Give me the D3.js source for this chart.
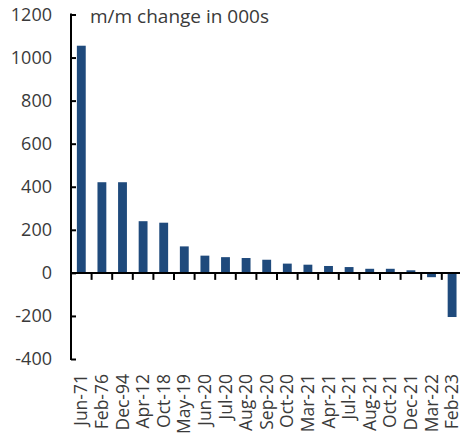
<!DOCTYPE html>
<html>
<head>
<meta charset="utf-8">
<script src="https://cdn.jsdelivr.net/npm/d3@7"></script>
<style>
  html, body { margin: 0; padding: 0; background: #fff; }
  svg { display: block; }
  text { font-family: "Open Sans", "Noto Sans", sans-serif; fill: #3a3a3a; }
</style>
</head>
<body>
<svg id="chart" width="460" height="436"></svg>
<script>
const categories = ["Jun-71","Feb-76","Dec-94","Apr-12","Oct-18","May-19","Jun-20","Jul-20","Aug-20","Sep-20","Oct-20","Mar-21","Apr-21","Jul-21","Aug-21","Oct-21","Dec-21","Mar-22","Feb-23"];
const values = [1055, 421, 421, 240, 233, 123, 80, 73, 69, 61, 43, 38, 32, 27, 19, 19, 12, -20, -205];
const yTicks = [-400, -200, 0, 200, 400, 600, 800, 1000, 1200];
const title = "m/m change in 000s";

const svg = d3.select("#chart");
const x = d3.scaleBand().domain(categories).range([71, 462.4]).paddingInner(0.57).paddingOuter(0.285);
const y = d3.scaleLinear().domain([-400, 1200]).range([359, 14.5]);

// bars
svg.append("g").selectAll("rect").data(values).join("rect")
  .attr("x", (d, i) => x(categories[i]))
  .attr("width", x.bandwidth())
  .attr("y", d => y(Math.max(0, d)))
  .attr("height", d => Math.abs(y(d) - y(0)))
  .attr("fill", "#1f4a7c");

// y axis
const yAxis = d3.axisRight(y).tickValues(yTicks).tickSize(5).tickFormat("");
const yg = svg.append("g").attr("transform", "translate(71,0)").call(yAxis);
yg.select(".domain").remove();
yg.append("line").attr("x1", 0).attr("x2", 0).attr("y1", y(1200) - 1).attr("y2", y(-400) + 1).attr("stroke", "#000").attr("stroke-width", 2);
yg.selectAll(".tick line").attr("stroke", "#000").attr("stroke-width", 2);

svg.append("g").selectAll("text").data(yTicks).join("text")
  .attr("x", 52).attr("y", d => y(d)).attr("dy", "0.35em")
  .attr("text-anchor", "end").attr("font-size", 18)
  .text(d => d);

// x axis at zero
const xg = svg.append("g");
const step = x.step();
xg.append("line").attr("x1", 71).attr("x2", 460).attr("y1", y(0)).attr("y2", y(0)).attr("stroke", "#000").attr("stroke-width", 2);
xg.selectAll("line.tk").data(categories.slice(1)).join("line").attr("class", "tk")
  .attr("x1", d => x(d) + x.bandwidth() / 2 - step / 2)
  .attr("x2", d => x(d) + x.bandwidth() / 2 - step / 2)
  .attr("y1", y(0)).attr("y2", y(0) + 7)
  .attr("stroke", "#000").attr("stroke-width", 2);

// x labels at bottom, rotated
svg.append("g").selectAll("text").data(categories).join("text")
  .attr("transform", d => `translate(${x(d) + x.bandwidth() / 2},374) rotate(-90)`)
  .attr("text-anchor", "end").attr("dy", "0.35em").attr("font-size", 17.5)
  .text(d => d);

// title
svg.append("text").attr("x", 90).attr("y", 23).attr("font-size", 19).text(title);
</script>
</body>
</html>
